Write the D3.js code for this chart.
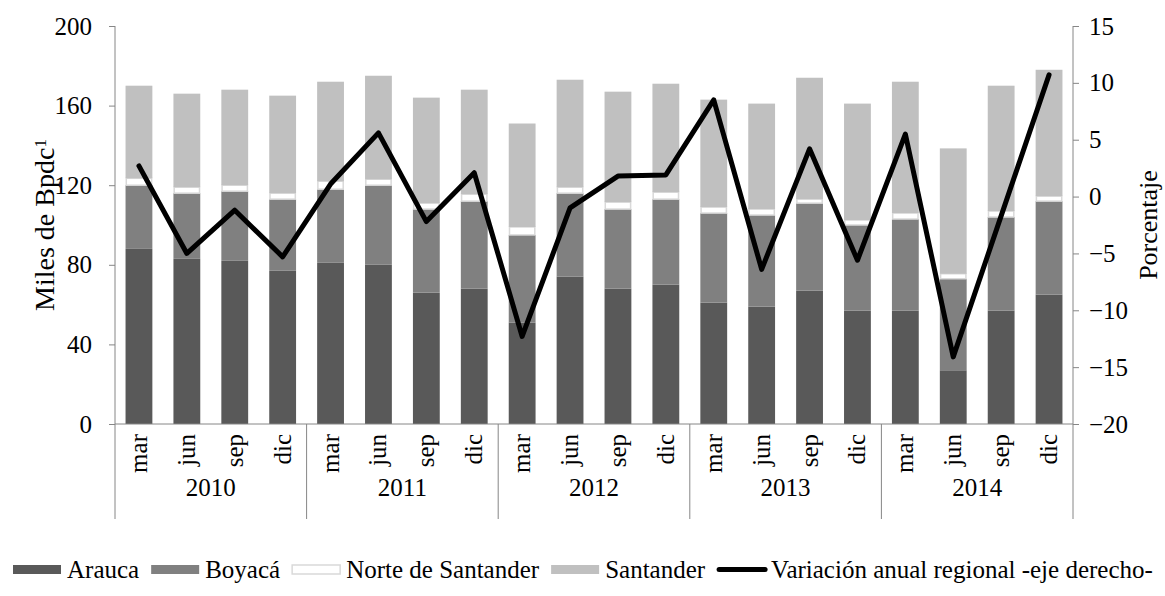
<!DOCTYPE html>
<html>
<head>
<meta charset="utf-8">
<script src="https://cdn.jsdelivr.net/npm/d3@7"></script>
<style>
  body { margin: 0; background: #fff; }
</style>
</head>
<body>
<svg id="chart" width="1165" height="596" font-family="'Liberation Serif', 'DejaVu Serif', serif"></svg>
<script>
  // data (miles de Bpdc, stacked; line in %)
  const years = ["2010", "2011", "2012", "2013", "2014"];
  const months = ["mar", "jun", "sep", "dic"];
  const arauca = [88, 83, 82, 77, 81, 80, 66, 68, 51, 74, 68, 70, 61, 59, 67, 57, 57, 27, 57, 65];
  const boyaca = [32, 33, 35, 36, 37, 40, 42, 44, 44, 42, 40, 43, 45, 46, 44, 43, 46, 46, 47, 47];
  const norte = [3.5, 3, 3, 3, 4, 3, 3, 3.5, 4, 3, 3.5, 3.5, 3, 3, 2, 2.5, 3, 2.5, 3, 2.5];
  const santander = [46.5, 47, 48, 49, 50, 52, 53, 52.5, 52, 54, 55.5, 54.5, 54, 53, 61, 58.5, 66, 63, 63, 63.5];
  const variacion = [2.7, -5.0, -1.2, -5.3, 1.1, 5.6, -2.2, 2.1, -12.3, -1.0, 1.8, 1.9, 8.5, -6.4, 4.2, -5.6, 5.5, -14.1, -1.7, 10.7];
  const leftTicks = [0, 40, 80, 120, 160, 200];
  const rightTicks = [-20, -15, -10, -5, 0, 5, 10, 15];

  const series = [
    { name: "Arauca", values: arauca, fill: "#595959", stroke: "none" },
    { name: "Boyacá", values: boyaca, fill: "#808080", stroke: "none" },
    { name: "Norte de Santander", values: norte, fill: "#ffffff", stroke: "#d9d9d9" },
    { name: "Santander", values: santander, fill: "#c0c0c0", stroke: "none" }
  ];

  const FONT = "'Liberation Serif', 'DejaVu Serif', serif";
  const keys = [];
  years.forEach(y => months.forEach(m => keys.push(y + "-" + m)));

  const svg = d3.select("#chart");
  const pLeft = 115, pRight = 1073, pTop = 26, pBottom = 424;
  const axisColor = "#868686";

  const x = d3.scaleBand()
    .domain(keys)
    .range([pLeft, pRight])
    .paddingInner(0.44)
    .paddingOuter(0.22);

  const yL = d3.scaleLinear().domain([0, 200]).range([pBottom, pTop]);
  const yR = d3.scaleLinear().domain([-20, 15]).range([pBottom, pTop]);

  // stacked bars
  const rows = keys.map((k, i) => {
    const r = { key: k };
    series.forEach(s => { r[s.name] = s.values[i]; });
    return r;
  });
  const stack = d3.stack().keys(series.map(s => s.name))(rows);

  stack.forEach((layer, li) => {
    const s = series[li];
    svg.append("g")
      .selectAll("rect")
      .data(layer)
      .enter().append("rect")
        .attr("x", d => x(d.data.key) + (s.stroke !== "none" ? 0.75 : 0))
        .attr("y", d => yL(d[1]))
        .attr("width", x.bandwidth() - (s.stroke !== "none" ? 1.5 : 0))
        .attr("height", d => yL(d[0]) - yL(d[1]))
        .attr("fill", s.fill)
        .attr("stroke", s.stroke)
        .attr("stroke-width", 1.5);
  });

  // left axis
  const gL = svg.append("g")
    .attr("transform", `translate(${pLeft},0)`)
    .call(d3.axisLeft(yL).tickValues(leftTicks).tickSize(6).tickPadding(17).tickSizeOuter(0));

  // right axis
  const gR = svg.append("g")
    .attr("transform", `translate(${pRight},0)`)
    .call(d3.axisRight(yR).tickValues(rightTicks).tickSize(6).tickPadding(10).tickSizeOuter(0));

  [gL, gR].forEach(g => {
    g.attr("font-family", FONT).attr("font-size", 25);
    g.selectAll("path, line").attr("stroke", axisColor);
    g.select(".domain").attr("d", `M0,${pTop}V${pBottom}`);
  });

  // category axis: baseline, group separators, month and year labels
  svg.append("line")
    .attr("x1", pLeft).attr("x2", pRight)
    .attr("y1", pBottom).attr("y2", pBottom)
    .attr("stroke", axisColor);

  const groupW = (pRight - pLeft) / years.length;
  years.forEach((yr, gi) => {
    svg.append("line")
      .attr("x1", pLeft + gi * groupW).attr("x2", pLeft + gi * groupW)
      .attr("y1", pBottom).attr("y2", 519)
      .attr("stroke", axisColor);
    svg.append("text")
      .attr("x", pLeft + (gi + 0.5) * groupW)
      .attr("y", 496)
      .attr("text-anchor", "middle")
      .attr("font-family", FONT)
      .attr("font-size", 25)
      .text(yr);
  });
  svg.append("line")
    .attr("x1", pRight).attr("x2", pRight)
    .attr("y1", pBottom).attr("y2", 519)
    .attr("stroke", axisColor);

  svg.append("g")
    .attr("font-family", FONT)
    .attr("font-size", 25)
    .selectAll("text")
    .data(keys)
    .enter().append("text")
      .attr("transform", d => `translate(${x(d) + x.bandwidth() / 2},434) rotate(-90)`)
      .attr("text-anchor", "end")
      .attr("dy", "0.32em")
      .text(d => d.split("-")[1]);

  // line on right axis
  const line = d3.line()
    .x((d, i) => x(keys[i]) + x.bandwidth() / 2)
    .y(d => yR(d));

  svg.append("path")
    .datum(variacion)
    .attr("d", line)
    .attr("fill", "none")
    .attr("stroke", "#000")
    .attr("stroke-width", 5)
    .attr("stroke-linejoin", "round")
    .attr("stroke-linecap", "round");

  // axis titles
  const tL = svg.append("text")
    .attr("transform", `translate(54,${(pTop + pBottom) / 2}) rotate(-90)`)
    .attr("text-anchor", "middle")
    .attr("font-family", FONT)
    .attr("font-size", 28);
  tL.append("tspan").text("Miles de Bpdc");
  tL.append("tspan").attr("dy", "-0.45em").attr("font-size", 17).text("1");

  svg.append("text")
    .attr("transform", `translate(1157,${(pTop + pBottom) / 2}) rotate(-90)`)
    .attr("text-anchor", "middle")
    .attr("font-family", FONT)
    .attr("font-size", 26)
    .text("Porcentaje");

  // legend
  const legendItems = series.map(s => ({ name: s.name, fill: s.fill, stroke: s.stroke, type: "rect" }))
    .concat([{ name: "Variación anual regional -eje derecho-", type: "line" }]);
  const legY = 578;
  let lx = 13;
  const leg = svg.append("g").attr("font-family", FONT).attr("font-size", 25);
  legendItems.forEach(it => {
    if (it.type === "rect") {
      leg.append("rect")
        .attr("x", lx).attr("y", legY - 13)
        .attr("width", 48).attr("height", 9)
        .attr("fill", it.fill)
        .attr("stroke", it.stroke === "none" ? "none" : it.stroke)
        .attr("stroke-width", 1.5);
    } else {
      leg.append("line")
        .attr("x1", lx + 2).attr("x2", lx + 48)
        .attr("y1", legY - 8.5).attr("y2", legY - 8.5)
        .attr("stroke", "#000").attr("stroke-width", 5)
        .attr("stroke-linecap", "round");
    }
    const t = leg.append("text")
      .attr("x", lx + 54).attr("y", legY)
      .text(it.name);
    lx += 54 + t.node().getComputedTextLength() + 12;
  });
</script>
</body>
</html>
